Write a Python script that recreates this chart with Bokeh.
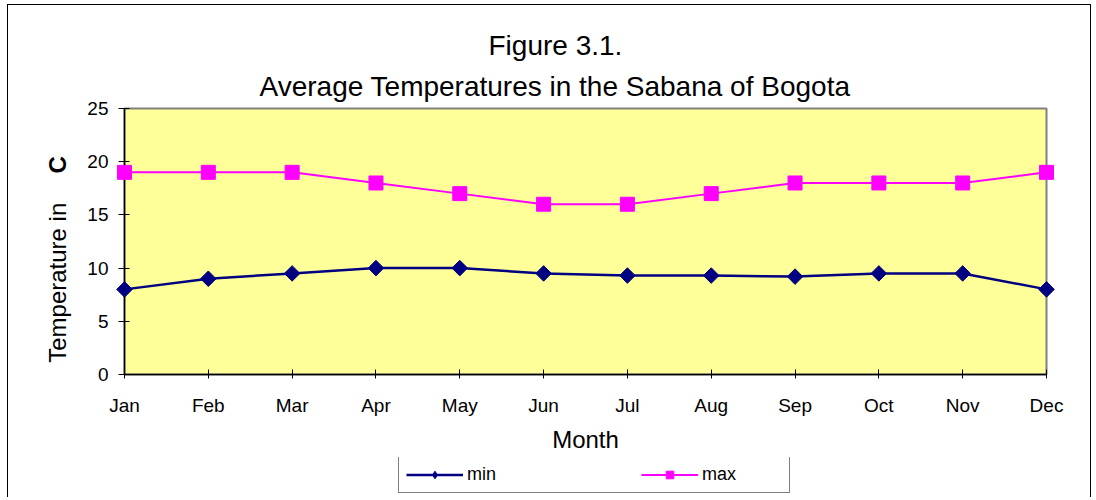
import math
from bokeh.plotting import figure
from bokeh.layouts import column
from bokeh.models import Range1d, FixedTicker, Legend, LegendItem, Title
from bokeh.core.properties import value
from bokeh.embed import file_html
from bokeh.resources import INLINE

# ---- data ----
months = ["Jan", "Feb", "Mar", "Apr", "May", "Jun", "Jul", "Aug", "Sep", "Oct", "Nov", "Dec"]
t_min = [8, 9, 9.5, 10, 10, 9.5, 9.3, 9.3, 9.2, 9.5, 9.5, 8]
t_max = [19, 19, 19, 18, 17, 16, 16, 17, 18, 18, 18, 19]
y_ticks = [0, 5, 10, 15, 20, 25]
x_idx = list(range(len(months)))

FONT = "Liberation Sans"
NAVY = "#000080"
MAGENTA = "#FF00FF"
BORDER_L, BORDER_R = 116, 44

# ---------------- main chart ----------------
p = figure(width=1082, height=450, output_backend="svg", toolbar_location=None,
           title=None,
           x_range=Range1d(0, len(months) - 1), y_range=Range1d(0, 25),
           min_border_left=BORDER_L, min_border_right=BORDER_R,
           min_border_top=103, min_border_bottom=81,
           background_fill_color="#FFFF99", border_fill_color="white")

p.line(x_idx, t_min, line_color=NAVY, line_width=2.5, level="overlay")
p.scatter(x_idx, t_min, marker="square", angle=math.pi / 4, size=11,
          fill_color=NAVY, line_color=NAVY, level="overlay")
p.line(x_idx, t_max, line_color=MAGENTA, line_width=2, level="overlay")
p.scatter(x_idx, t_max, marker="square", size=14,
          fill_color=MAGENTA, line_color=MAGENTA, level="overlay")

p.xgrid.visible = False
p.ygrid.visible = False
p.outline_line_color = "#808080"
p.outline_line_width = 2

xa = p.xaxis[0]
xa.ticker = FixedTicker(ticks=x_idx)
xa.major_label_overrides = {i: m for i, m in enumerate(months)}
xa.minor_tick_line_color = None
xa.major_tick_in = 5
xa.major_tick_out = 4
xa.axis_line_color = "black"
xa.axis_line_width = 1.5
xa.major_tick_line_color = "black"
xa.major_label_text_font = FONT
xa.major_label_text_font_size = "19px"
xa.major_label_text_color = "black"
xa.major_label_standoff = 16
xa.axis_label = "Month"
xa.axis_label_text_font = FONT
xa.axis_label_text_font_size = "24px"
xa.axis_label_text_font_style = "normal"
xa.axis_label_text_color = "black"
xa.axis_label_standoff = 7

ya = p.yaxis[0]
ya.ticker = FixedTicker(ticks=y_ticks)
ya.minor_tick_line_color = None
ya.major_tick_in = 5
ya.major_tick_out = 6
ya.axis_line_color = "black"
ya.axis_line_width = 1.5
ya.major_tick_line_color = "black"
ya.major_label_text_font = FONT
ya.major_label_text_font_size = "19px"
ya.major_label_text_color = "black"
ya.major_label_standoff = 10

# y-axis title (plain part + bold C), drawn as unclipped text glyphs
p.text(x=[-0.8], y=[1.1], text=["Temperature in"], angle=math.pi / 2,
       text_align="left", text_baseline="middle", text_font=value(FONT),
       text_font_size="24px", text_color="black", level="overlay")
p.text(x=[-0.8], y=[19.7], text=["C"], angle=math.pi / 2,
       text_align="center", text_baseline="middle", text_font=value(FONT),
       text_font_size="24px", text_font_style="bold", text_color="black", level="overlay")

# titles (left-aligned with offsets so they centre on the whole chart)
p.add_layout(Title(text="Average Temperatures in the Sabana of Bogota", align="left",
                   text_font=FONT, text_font_size="28px", text_font_style="normal",
                   text_color="black", offset=135, standoff=13), "above")
p.add_layout(Title(text="Figure 3.1.", align="left",
                   text_font=FONT, text_font_size="28px", text_font_style="normal",
                   text_color="black", offset=364, standoff=4), "above")

# ---------------- legend strip ----------------
leg = figure(width=1082, height=42, output_backend="svg", toolbar_location=None,
             title=None, x_axis_type=None, y_axis_type=None,
             x_range=Range1d(0, len(months) - 1), y_range=Range1d(-100, -99),
             min_border_left=BORDER_L, min_border_right=BORDER_R,
             min_border_top=2, min_border_bottom=3,
             background_fill_color="white", border_fill_color="white")
leg.xgrid.visible = False
leg.ygrid.visible = False
leg.outline_line_color = None
l_min_line = leg.line(x_idx, t_min, line_color=NAVY, line_width=2.5)
l_min_pts = leg.scatter(x_idx, t_min, marker="diamond", size=18,
                        fill_color=NAVY, line_color=NAVY)
l_max_line = leg.line(x_idx, t_max, line_color=MAGENTA, line_width=2)
l_max_pts = leg.scatter(x_idx, t_max, marker="square", size=14,
                        fill_color=MAGENTA, line_color=MAGENTA)
legend = Legend(items=[LegendItem(label="min", renderers=[l_min_line, l_min_pts]),
                       LegendItem(label="max", renderers=[l_max_line, l_max_pts])],
                orientation="horizontal", location=(274, 1),
                border_line_color="black", border_line_width=1,
                background_fill_color="white", background_fill_alpha=1,
                padding=7, margin=0, spacing=94, glyph_width=57, glyph_height=19,
                label_standoff=4, label_width=80,
                label_text_font=FONT, label_text_font_size="18px", label_text_color="black")
leg.add_layout(legend, "center")

layout = column(p, leg, spacing=0,
                styles={"border-left": "1px solid black", "border-top": "1px solid black",
                        "border-right": "1px solid black", "margin-left": "7px",
                        "margin-top": "4px"})

open("out.html", "w").write(file_html(layout, INLINE))
